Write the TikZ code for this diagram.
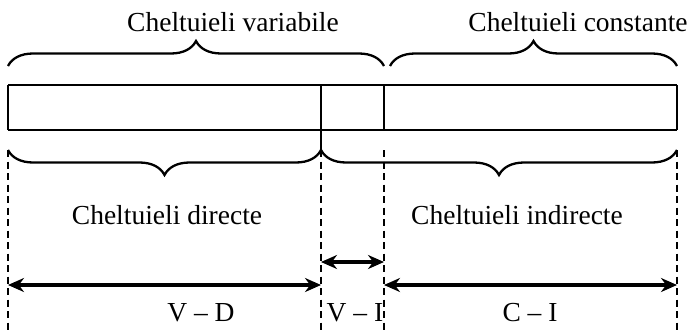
\documentclass[tikz,border=0pt]{standalone}
\usepackage{fontspec}
\setmainfont{Liberation Serif}
\usetikzlibrary{arrows.meta,decorations.pathreplacing}
\begin{document}
\begin{tikzpicture}[x=1pt,y=-1pt,
  solidline/.style={line width=2.8pt},
  dashline/.style={line width=2.6pt,dash pattern=on 7pt off 4.5pt},
  bracestyle/.style={line width=2.3pt,decorate,decoration={brace,amplitude=25pt}},
  mbracestyle/.style={line width=2.3pt,decorate,decoration={brace,amplitude=25pt,mirror}},
  dimarrow/.style={line width=4pt,{Stealth[length=16pt,width=14pt]}-{Stealth[length=16pt,width=14pt]}},
  lbl/.style={font=\fontsize{27.5}{33}\selectfont,inner sep=0pt}]
\useasboundingbox (0,0) rectangle (691,332);
% key coordinates
\coordinate (t1) at (8,85);   \coordinate (t2) at (321,85);
\coordinate (t3) at (384,85); \coordinate (t4) at (677,85);
\coordinate (m1) at (8,130);  \coordinate (m2) at (321,130);
\coordinate (m3) at (384,130);\coordinate (m4) at (677,130);
\coordinate (b1) at (8,150);  \coordinate (b2) at (321,150);
\coordinate (b3) at (384,150);\coordinate (b4) at (677,150);
\coordinate (d1) at (8,332);  \coordinate (d2) at (321,332);
\coordinate (d3) at (384,332);\coordinate (d4) at (677,332);
\coordinate (ub1) at (8,66);  \coordinate (ub2) at (384,66);
\coordinate (ub3) at (390,66);\coordinate (ub4) at (677,66);
% rectangle lines
\draw[solidline] (t1) -- (t4);
\draw[solidline] (m1) -- (m4);
\draw[solidline] (t1) -- (m1);
\draw[solidline] (t2) -- (b2);
\draw[solidline] (t3) -- (m3);
\draw[solidline] (t4) -- (m4);
% dashed verticals
\draw[dashline] (b1) -- (d1);
\draw[dashline] (b2) -- (d2);
\draw[dashline] (b3) -- (d3);
\draw[dashline] (b4) -- (d4);
% braces
\draw[bracestyle] (ub1) -- (ub2);
\draw[bracestyle] (ub3) -- (ub4);
\draw[mbracestyle] (b1) -- (b2);
\draw[mbracestyle] (b2) -- (b4);
% labels
\node[lbl] (cv) at (233,22) {Cheltuieli variabile};
\node[lbl] (cc) at (578,22) {Cheltuieli constante};
\node[lbl] (cd) at (167,215) {Cheltuieli directe};
\node[lbl] (ci) at (517,215) {Cheltuieli indirecte};
% arrows
\coordinate (a1) at (8,285);   \coordinate (a2) at (321,285);
\coordinate (a3) at (321,262); \coordinate (a4) at (384,262);
\coordinate (a5) at (384,285); \coordinate (a6) at (677,285);
\draw[dimarrow] (a1) -- (a2);
\draw[dimarrow] (a3) -- (a4);
\draw[dimarrow] (a5) -- (a6);
\node[lbl] (vd) at (201,313) {V – D};
\node[lbl] (vi) at (355,313) {V – I};
\node[lbl] (ci2) at (530,313) {C – I};
\end{tikzpicture}
\end{document}
